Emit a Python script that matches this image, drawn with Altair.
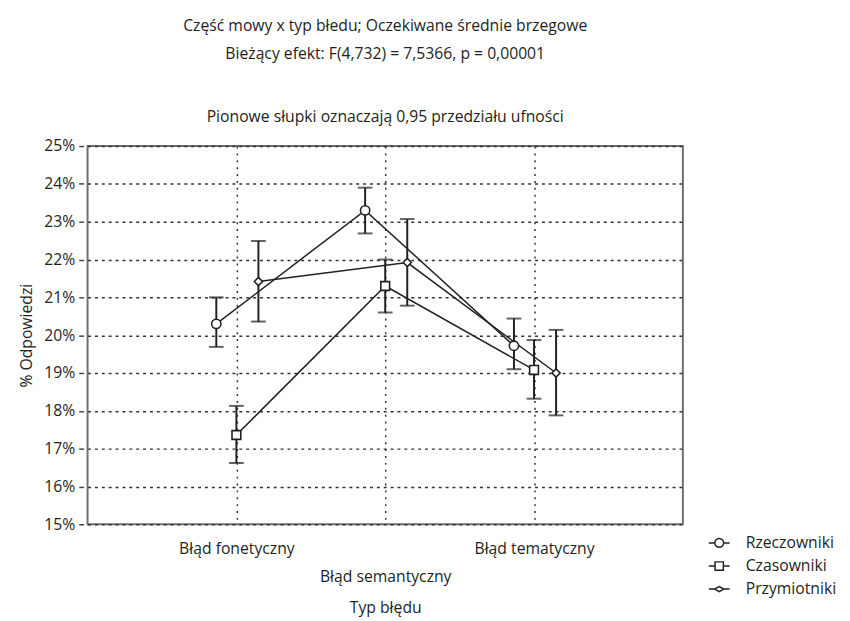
import altair as alt
import pandas as pd

# ---- data ----
categories = ["Błąd fonetyczny", "Błąd semantyczny", "Błąd tematyczny"]
series = ["Rzeczowniki", "Czasowniki", "Przymiotniki"]

mean_rzeczowniki = [20.3, 23.3, 19.72]
lo_rzeczowniki = [19.69, 22.69, 19.1]
hi_rzeczowniki = [21.0, 23.9, 20.44]

mean_czasowniki = [17.36, 21.3, 19.08]
lo_czasowniki = [16.62, 20.6, 18.32]
hi_czasowniki = [18.13, 22.0, 19.87]

mean_przymiotniki = [21.42, 21.92, 19.0]
lo_przymiotniki = [20.36, 20.78, 17.88]
hi_przymiotniki = [22.49, 23.07, 20.14]

y_ticks = list(range(15, 26))

rows = []
for s, m, lo, hi in [
    ("Rzeczowniki", mean_rzeczowniki, lo_rzeczowniki, hi_rzeczowniki),
    ("Czasowniki", mean_czasowniki, lo_czasowniki, hi_czasowniki),
    ("Przymiotniki", mean_przymiotniki, lo_przymiotniki, hi_przymiotniki),
]:
    for i, c in enumerate(categories):
        rows.append({"series": s, "cat": c, "idx": i, "mean": m[i], "lo": lo[i], "hi": hi[i]})
df = pd.DataFrame(rows)

# dodge of the series around each category (in category steps)
dodge = {"Rzeczowniki": -0.135, "Czasowniki": 0.0, "Przymiotniki": 0.148}
dodge_expr = " : ".join(
    [f"datum.series == '{k}' ? {v}" for k, v in dodge.items()]
) + " : 0"

FONT = "Open Sans"
FS = 16
INK = "#231f20"

label_expr = (
    f"datum.value == 0 ? '{categories[0]}' : "
    f"datum.value == 1 ? ['', '{categories[1]}'] : "
    f"datum.value == 2 ? '{categories[2]}' : ''"
)

x_axis = alt.Axis(
    title="Typ błędu",
    values=[0, 1, 2],
    labelExpr=label_expr,
    labelLineHeight=28,
    labelPadding=17,
    labelOverlap=False,
    ticks=False,
    domain=False,
    grid=True,
    gridDash=[2, 5],
    gridColor="#333333",
    gridWidth=1.5,
    titlePadding=16,
)
x_scale = alt.Scale(domain=[-1, 3], nice=False, zero=False)

y_axis = alt.Axis(
    title="% Odpowiedzi",
    values=y_ticks,
    labelExpr="datum.value + '%'",
    labelOverlap=False,
    domain=False,
    tickSize=5,
    tickColor="#444444",
    tickWidth=1.5,
    offset=4,
    labelPadding=4,
    grid=True,
    gridDash=[3, 4],
    gridColor="#333333",
    gridWidth=1.5,
    titlePadding=10,
)
y_scale = alt.Scale(domain=[15, 25], nice=False, zero=False)


def X():
    return alt.X("pos:Q", scale=x_scale, axis=x_axis)


def Y(field):
    return alt.Y(f"{field}:Q", scale=y_scale, axis=y_axis)


base = alt.Chart(df).transform_calculate(pos=f"datum.idx + ({dodge_expr})")

lines = base.mark_line(color=INK, strokeWidth=1.5).encode(
    x=X(),
    y=Y("mean"),
    detail="series:N",
    order="pos:Q",
)

rules = base.mark_rule(color=INK, strokeWidth=2).encode(
    x=X(), y=Y("lo"), y2="hi:Q"
)
caps_lo = base.mark_tick(color=INK, thickness=2, size=15, orient="horizontal").encode(
    x=X(), y=Y("lo")
)
caps_hi = base.mark_tick(color=INK, thickness=2, size=15, orient="horizontal").encode(
    x=X(), y=Y("hi")
)

points = base.mark_point(filled=True, fill="white", stroke=INK, strokeWidth=1.6, opacity=1).encode(
    x=X(),
    y=Y("mean"),
    shape=alt.Shape(
        "series:N",
        scale=alt.Scale(domain=series, range=["circle", "square", "diamond"]),
        legend=None,
    ),
    size=alt.Size(
        "series:N",
        scale=alt.Scale(domain=series, range=[90, 70, 45]),
        legend=None,
    ),
)

legend_paths = [
    "M-0.85,0A0.85,0.85 0 1,1 0.85,0A0.85,0.85 0 1,1 -0.85,0Z"
    "M-2,0L-0.85,0M0.85,0L2,0",
    "M-0.8,-0.8L0.8,-0.8L0.8,0.8L-0.8,0.8Z"
    "M-2,0L-0.8,0M0.8,0L2,0",
    "M-0.9,0L0,-0.5L0.9,0L0,0.5Z"
    "M-2,0L-0.9,0M0.9,0L2,0",
]

legend_layer = base.transform_filter("false").mark_point(
    filled=False, color=INK, strokeWidth=1.5, opacity=1
).encode(
    x=X(),
    y=Y("mean"),
    shape=alt.Shape(
        "series:N",
        scale=alt.Scale(domain=series, range=legend_paths),
        legend=alt.Legend(
            title=None,
            orient="none",
            legendX=635,
            legendY=396,
            symbolSize=112,
            symbolStrokeColor=INK,
            symbolStrokeWidth=1.5,
            symbolOpacity=1,
            labelFont=FONT,
            labelFontSize=FS,
            labelColor=INK,
            labelOffset=19,
            rowPadding=7.5,
        ),
    ),
)

chart = (
    alt.layer(lines, rules, caps_lo, caps_hi, points, legend_layer)
    .resolve_scale(shape="independent")
    .properties(
        width=606,
        height=385,
        padding={"left": 10, "top": 5, "right": 5, "bottom": 5},
        title=alt.TitleParams(
            text=[
                "Część mowy x typ błedu; Oczekiwane średnie brzegowe",
                "Bieżący efekt: F(4,732) = 7,5366, p = 0,00001",
            ],
            subtitle="Pionowe słupki oznaczają 0,95 przedziału ufności",
            font=FONT,
            fontSize=FS,
            fontWeight="normal",
            color=INK,
            lineHeight=28,
            subtitleFont=FONT,
            subtitleFontSize=FS,
            subtitleColor=INK,
            subtitlePadding=48,
            offset=14,
            anchor="middle",
        ),
    )
    .configure_view(stroke="#6e6e6e", strokeWidth=2)
    .configure_axis(
        labelFont=FONT,
        labelFontSize=FS,
        labelColor=INK,
        titleFont=FONT,
        titleFontSize=FS,
        titleFontWeight="normal",
        titleColor=INK,
    )
)

chart.save("out.html", embed_options={"renderer": "svg", "actions": False})
